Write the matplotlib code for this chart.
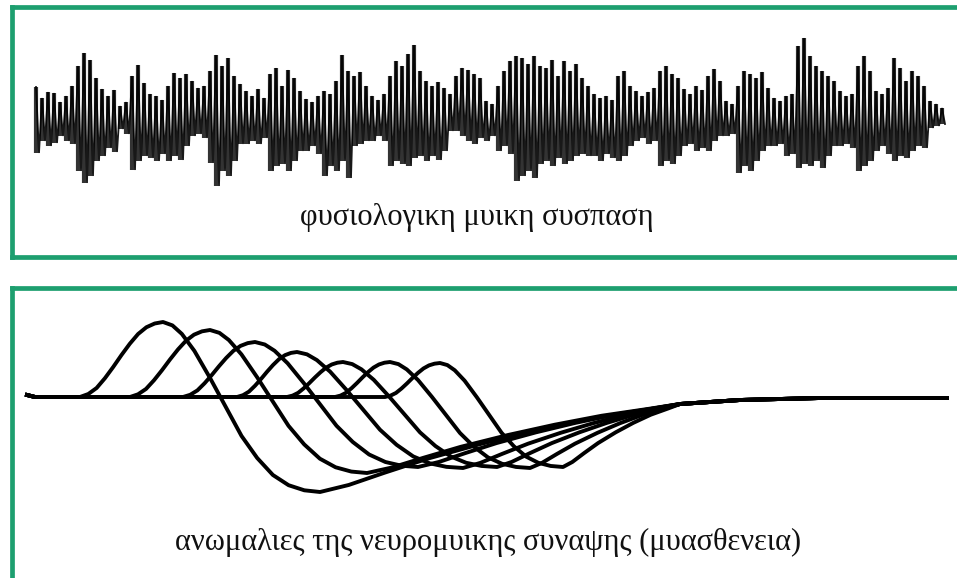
import numpy as np
import matplotlib.pyplot as plt

W, H = 957, 578
GREEN = '#1d9f6f'

# surface EMG: stroke extent above / below the baseline, one pair every 6 px
emg_x0, emg_dx = 36, 6
emg_up = [29, 18, 24, 23, 14, 20, 30, 50, 63, 56, 38, 27, 20, 26, 10, 14,
          40, 51, 33, 22, 20, 16, 30, 43, 38, 42, 35, 28, 30, 45, 61, 50,
          58, 40, 32, 25, 20, 27, 18, 42, 48, 30, 46, 38, 25, 17, 14, 20,
          25, 22, 35, 61, 45, 40, 44, 30, 20, 16, 22, 40, 55, 50, 62, 71,
          45, 35, 30, 34, 28, 22, 40, 48, 46, 42, 38, 15, 12, 30, 45, 55,
          60, 58, 52, 60, 50, 48, 56, 40, 55, 45, 52, 38, 30, 22, 18, 20,
          16, 40, 45, 30, 25, 20, 24, 28, 45, 50, 42, 38, 27, 22, 30, 26,
          40, 47, 35, 15, 12, 30, 45, 42, 38, 44, 28, 18, 15, 20, 22, 70,
          78, 60, 50, 45, 40, 35, 25, 20, 22, 50, 60, 45, 25, 22, 28, 58,
          48, 35, 45, 40, 30, 15, 12, 8]
emg_down = [37, 25, 30, 27, 20, 25, 28, 55, 67, 60, 45, 40, 32, 36, 13, 18,
            54, 45, 40, 42, 45, 38, 45, 40, 44, 30, 20, 18, 22, 47, 70, 55,
            60, 45, 28, 28, 25, 28, 22, 55, 50, 48, 55, 45, 35, 35, 30, 38,
            60, 50, 55, 45, 62, 30, 28, 25, 25, 20, 25, 50, 45, 48, 50, 42,
            40, 45, 40, 44, 35, 15, 15, 20, 25, 28, 22, 25, 20, 35, 30, 38,
            65, 60, 55, 62, 48, 45, 50, 42, 48, 45, 40, 38, 40, 40, 45, 38,
            42, 45, 40, 30, 25, 22, 28, 25, 50, 45, 48, 40, 30, 28, 35, 32,
            35, 25, 20, 20, 18, 57, 50, 55, 45, 35, 30, 30, 28, 40, 38, 52,
            48, 50, 45, 52, 40, 30, 30, 28, 32, 55, 50, 45, 35, 30, 38, 45,
            40, 42, 35, 30, 32, 12, 10, 8]

# myasthenia: successive responses (onset, peak, trough) in px
onset_x = [80, 130, 183, 237, 287, 335, 385]
peak_x = [163, 210, 255, 297, 343, 390, 440]
peak_amp = [75, 67, 55, 45, 35, 35, 34]
trough_x = [320, 367, 418, 463, 497, 530, 563]
trough_amp = [-95, -76, -70, -71, -70, -71, -70]
merge_x, merge_amp = 680, -7
tail_x = [740, 820, 947]
tail_amp = [-3, -1, -1]

# shape of each phase of a response
rise_u = [0, .1, .2, .3, .4, .5, .6, .7, .8, .9, 1]
rise_h = [0, .04, .12, .25, .40, .56, .71, .84, .93, .98, 1]
fall_u = [0, .06, .12, .2, .3, .4, .5, .6, .7, .8, .9, 1]
fall_h = [1, .98, .93, .83, .67, .5, .33, .2, .1, .04, .01, 0]
ret_u = [0, .08, .18, .3, .45, .6, .75, .9, 1]
ret_h = [0, .08, .22, .38, .55, .70, .83, .93, 1]

top_label = 'φυσιολογικη μυικη συσπαση'
bottom_label = 'ανωμαλιες της νευρομυικης συναψης (μυασθενεια)'

fig = plt.figure(figsize=(W / 100, H / 100), dpi=100)

def panel(top_px, bottom_px, base_px, sides):
    ax = fig.add_axes([12 / W, 1 - bottom_px / H, 1 - 12 / W, (bottom_px - top_px) / H])
    ax.set_xlim(12, W)
    ax.set_ylim(base_px - bottom_px, base_px - top_px)
    ax.set_xticks([])
    ax.set_yticks([])
    for s, sp in ax.spines.items():
        sp.set_visible(s in sides)
        sp.set_color(GREEN)
        sp.set_linewidth(3.4)
    return ax

# top panel
ax1 = panel(7, 256.5, 116, ('left', 'top', 'bottom'))
up = np.array(emg_up)
dn = np.array(emg_down)
xs = emg_x0 + emg_dx * np.arange(len(up))
ax1.vlines(xs, -dn, up, color='black', lw=3.0, alpha=0.8)
zx = np.column_stack([xs, xs + emg_dx / 2]).ravel()
zy = np.column_stack([up, -dn]).ravel()
ax1.plot(zx, zy, color='black', lw=1.3, alpha=0.9, solid_joinstyle='miter')
ax1.text(477, 116 - 218, top_label, ha='center', va='center',
         fontsize=22, family='Liberation Serif', color='#111111')

# bottom panel
ax2 = panel(287.5, H + 5, 397, ('left', 'top'))
for k in range(len(peak_x)):
    wx = [27, 35, onset_x[k]]
    wy = [2, 0, 0]
    wx += [onset_x[k] + u * (peak_x[k] - onset_x[k]) for u in rise_u[1:]]
    wy += [h * peak_amp[k] for h in rise_h[1:]]
    wx += [peak_x[k] + u * (trough_x[k] - peak_x[k]) for u in fall_u[1:]]
    wy += [trough_amp[k] + h * (peak_amp[k] - trough_amp[k]) for h in fall_h[1:]]
    wx += [trough_x[k] + u * (merge_x - trough_x[k]) for u in ret_u[1:]]
    wy += [trough_amp[k] + h * (merge_amp - trough_amp[k]) for h in ret_h[1:]]
    wx += tail_x
    wy += tail_amp
    ax2.plot(wx, wy, color='black', lw=2.8, solid_joinstyle='round')
ax2.text(488, 397 - 542, bottom_label, ha='center', va='center',
         fontsize=22, family='Liberation Serif', color='#111111')

fig.savefig('out.png', dpi=100)
